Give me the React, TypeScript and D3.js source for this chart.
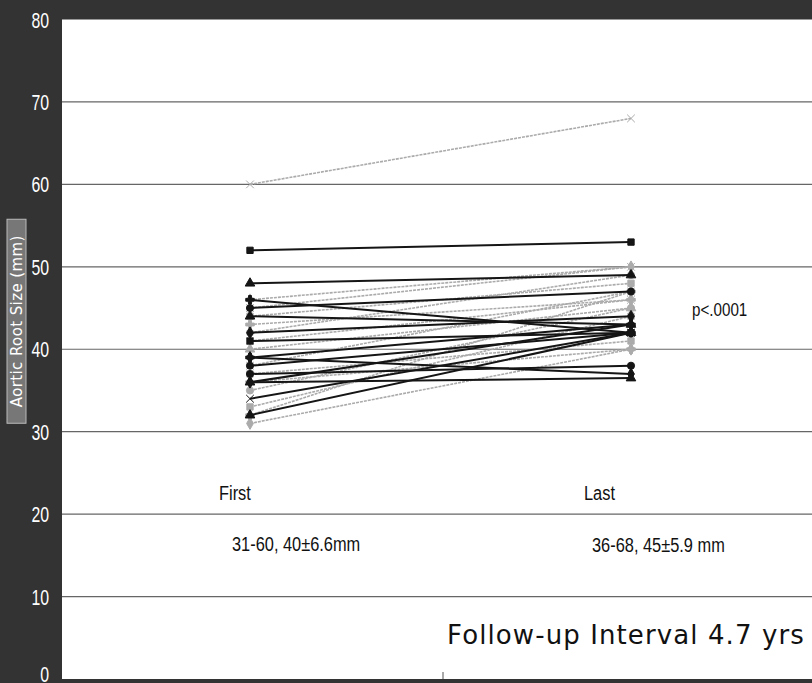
import React from 'react';
import * as d3 from 'd3';

// follow-up measurements, one pair per patient (mm)
const timepoints = ['First', 'Last'];
const firstSize = [60, 52, 48, 46, 46, 45, 45, 44, 44, 43, 42, 42, 41, 41, 40, 39, 39, 38, 38, 37, 36, 36, 36, 35, 34, 33, 32, 32, 31, 37];
const lastSize = [68, 53, 49, 42, 50, 47, 50, 48, 43, 46, 44, 49, 46, 42, 45, 43, 37, 42, 47, 41, 36.5, 40, 43, 45, 42, 44, 42, 47, 40, 38];
const shade = ['g', 'k', 'k', 'k', 'g', 'k', 'g', 'g', 'k', 'g', 'k', 'g', 'g', 'k', 'g', 'k', 'k', 'k', 'g', 'g', 'k', 'g', 'k', 'g', 'k', 'g', 'k', 'g', 'g', 'k'];
const yTicks = [0, 10, 20, 30, 40, 50, 60, 70, 80];

const W = 812;
const H = 683;
const left = 62;
const top = 19.5;
const bottom = 679;

const symbols = [d3.symbolX, d3.symbolSquare, d3.symbolTriangle, d3.symbolCross, d3.symbolDiamond, d3.symbolCircle];
const narrow = "'Liberation Sans', Arial, sans-serif";

// narrow text: the original uses a condensed face, so squeeze a regular one
const Narrow = ({ x, y, size, sx = 0.78, anchor = 'start', fill = '#111', children }: any) => (
  <text
    transform={`translate(${x}, ${y}) scale(${sx}, 1)`}
    textAnchor={anchor}
    fontFamily={narrow}
    fontSize={size}
    fill={fill}
  >
    {children}
  </text>
);

const App = () => {
  const x = d3.scalePoint().domain(timepoints).range([250, 631]);
  const y = d3.scaleLinear().domain([0, 80]).range([bottom, top]);
  const line = d3.line<[string, number]>().x(d => x(d[0])!).y(d => y(d[1]));

  const pairs = firstSize.map((f, i) => ({ f, l: lastSize[i], dark: shade[i] === 'k', i }));
  // light lines first so the dark ones sit on top
  const ordered = [...pairs].sort((a, b) => (a.dark === b.dark ? 0 : a.dark ? 1 : -1));

  return (
    <svg width={W} height={H} style={{ position: 'absolute', left: 0, top: 0 }}>
      <rect x={0} y={0} width={W} height={H} fill="#333" />
      <rect x={left} y={top} width={W - left} height={bottom - top} fill="#fff" />

      {yTicks.map(t => (
        <g key={t}>
          {t > 0 && t < 80 && (
            <line x1={left} x2={W} y1={y(t)} y2={y(t)} stroke="#666" strokeWidth={1.2} />
          )}
          <Narrow x={49} y={t === 0 ? H - 1 : y(t) + 8} size={22} sx={0.72} anchor="end" fill="#fff">
            {t}
          </Narrow>
        </g>
      ))}
      <line x1={443} x2={443} y1={bottom - 7} y2={bottom} stroke="#555" strokeWidth={1} />

      <g transform={`translate(16.5, ${y(40) - 28}) rotate(-90)`}>
        <rect x={-102} y={-9.5} width={204} height={19} fill="#777" stroke="#bbb" strokeWidth={1} />
        <text x={0} y={5.5} textAnchor="middle" fill="#fff" fontSize={15} fontFamily="'DejaVu Sans', sans-serif" letterSpacing={0.4}>
          Aortic Root Size (mm)
        </text>
      </g>

      {ordered.map(p => {
        const pts: [string, number][] = [['First', p.f], ['Last', p.l]];
        const col = p.dark ? '#151515' : '#ababab';
        const sym = d3.symbol().type(symbols[p.i % symbols.length]).size(40);
        return (
          <g key={p.i}>
            <path d={line(pts)!} fill="none" stroke={col} strokeWidth={p.dark ? 2 : 1.6} strokeDasharray={p.dark ? undefined : '3 1'} />
            {pts.map(d => (
              <path key={d[0]} d={sym()!} transform={`translate(${x(d[0])}, ${y(d[1])})`} fill={col} stroke={col} strokeWidth={1} />
            ))}
          </g>
        );
      })}

      <Narrow x={219} y={500} size={21}>First</Narrow>
      <Narrow x={584} y={500} size={21}>Last</Narrow>
      <Narrow x={232} y={551} size={21}>31-60, 40±6.6mm</Narrow>
      <Narrow x={592} y={552} size={21}>36-68, 45±5.9 mm</Narrow>
      <Narrow x={692} y={316} size={19} sx={0.8}>p&lt;.0001</Narrow>

      <text x={447} y={644} fontFamily="'DejaVu Sans', sans-serif" fontSize={26} letterSpacing={1.1} fill="#111">
        Follow-up Interval 4.7 yrs
      </text>
    </svg>
  );
};

export default App;
